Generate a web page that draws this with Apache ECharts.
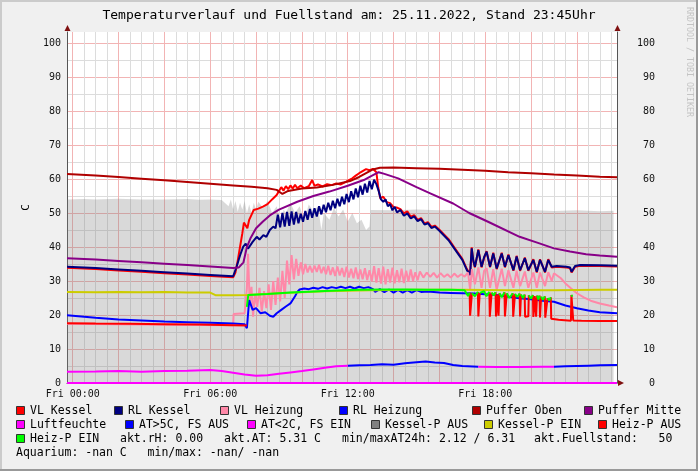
<!DOCTYPE html>
<html><head><meta charset="utf-8">
<script src="https://cdn.jsdelivr.net/npm/echarts@6/dist/echarts.min.js"></script>
<style>html,body{margin:0;padding:0;background:#f0f0f0}#c{width:698px;height:471px}</style>
</head><body><div id="c"></div>
<script>
const G = '-';
const chartTitle = 'Temperaturverlauf und Fuellstand am: 25.11.2022, Stand 23:45Uhr';
const xTickLabels = {0:'Fri 00:00', 6:'Fri 06:00', 12:'Fri 12:00', 18:'Fri 18:00'};
const yUnit = 'C';

// time in hours relative to Fri 00:00
const fuellArea = [[-0.25,54.0],[0.5,54.1],[1,54.0],[2,54.2],[3,54.0],[4,54.0],[5,54.1],[5.5,53.9],[6,54.0],[6.5,53.8],[6.8,52.0],[6.9,54],[7.0,51],[7.1,53.5],[7.2,50.4],[7.3,53],[7.4,51],[7.5,53.5],[7.6,49.9],[7.7,52.5],[7.8,50],[7.9,53],[8.0,51],[8.1,53.3],[8.3,51.5],[8.5,53.5],[8.7,50],[8.9,52],[9.1,47],[9.2,51],[9.3,50],[9.5,53.0],[9.7,50],[9.9,52],[10.1,48],[10.3,52.5],[10.5,50.5],[10.7,52],[10.85,45.0],[10.95,50],[11.2,48],[11.4,51.5],[11.6,49],[11.8,51],[12.0,47.5],[12.2,50],[12.4,47],[12.6,48],[12.8,45],[12.95,46],[13.0,50.9],[14,50.8],[15,51.0],[16,50.8],[17,50.9],[18,50.7],[19,50.8],[20,50.9],[21,50.6],[22,50.8],[23,50.5],[23.6,50.7]];

const vlKessel = [[-0.25,33.9],[1,33.5],[2,33.1],[3,32.7],[4,32.3],[5,31.9],[6,31.5],[7.0,31.1],[7.1,32.5],[7.2,36],[7.3,40],[7.4,44],[7.47,47.2],[7.55,47.4],[7.62,45.5],[7.7,48],[7.9,50.9],[8.1,51.3],[8.3,51.9],[8.5,52.6],[8.7,54.0],[8.9,55.3],[9.0,56.5],[9.1,57.6],[9.2,56.6],[9.3,57.9],[9.4,57.0],[9.5,58.1],[9.6,57.2],[9.7,58.3],[9.8,57.3],[9.95,58.1],[10.1,57.3],[10.3,57.9],[10.45,59.7],[10.55,58.0],[10.7,58.4],[10.9,57.8],[11.1,58.5],[11.3,58.2],[11.5,58.7],[11.7,58.4],[11.9,59.1],[12.05,59.7],[12.2,60.2],[12.35,61.0],[12.5,61.7],[12.65,62.3],[12.8,62.9],[12.95,62.6],[13.1,63.0],[13.25,62.0],[13.33,57.5],[13.42,54.3],[13.55,54.8],[13.7,53.2],[13.85,52.9],[14.0,51.7],[14.15,51.6],[14.3,51.1],[14.45,49.9],[14.6,50.5],[14.75,48.9],[14.9,49.4],[15.05,48.0],[15.2,48.5],[15.35,46.9],[15.5,47.3],[15.65,45.9],[15.8,46.3],[16.0,45.1],[16.2,43.7],[16.4,42.3],[16.7,39.4],[17.0,36.5],[17.2,33.5],[17.34,32.1],[17.41,39.9],[17.48,35.8],[17.55,34.0],[17.7,39.3],[17.84,34.0],[17.95,36.8],[18.06,38.8],[18.21,34.0],[18.35,38.3],[18.5,33.5],[18.72,38.3],[18.86,34.0],[19.01,37.8],[19.23,33.0],[19.37,37.4],[19.52,33.0],[19.73,36.9],[19.88,33.0],[20.1,36.4],[20.25,32.5],[20.39,36.4],[20.61,32.5],[20.75,36.4],[20.9,34.0],[21.12,34.2],[21.55,34.0],[21.7,33.8],[21.77,32.5],[21.92,34.2],[22.14,34.5],[23,34.4],[23.75,34.3]];

const rlKessel = [[-0.25,34.2],[1,33.8],[2,33.4],[3,33.0],[4,32.6],[5,32.2],[6,31.8],[7.0,31.4],[7.15,34.2],[7.3,37.5],[7.44,40.1],[7.55,41.0],[7.65,39.5],[7.73,39.3],[7.85,41.5],[8.03,43.0],[8.15,42.2],[8.32,43.5],[8.45,43.0],[8.6,45.0],[8.75,46.0],[8.85,45.5],[8.95,49.5],[9.05,45.8],[9.15,50.0],[9.25,46.0],[9.35,50.3],[9.45,46.2],[9.55,50.5],[9.65,46.6],[9.75,50.3],[9.85,47.0],[9.95,49.8],[10.05,47.4],[10.15,50.6],[10.25,48.0],[10.35,51.2],[10.45,48.6],[10.55,51.4],[10.65,49.0],[10.75,52.0],[10.85,49.6],[10.95,52.4],[11.05,50.2],[11.15,53.0],[11.25,50.8],[11.35,53.6],[11.45,51.4],[11.55,54.2],[11.65,52.0],[11.75,54.8],[11.85,52.6],[11.95,55.6],[12.05,53.2],[12.15,56.4],[12.25,54.0],[12.35,57.2],[12.45,54.6],[12.55,58.0],[12.65,55.4],[12.75,58.6],[12.85,56.0],[12.95,59.4],[13.05,57.0],[13.15,59.8],[13.25,58.5],[13.35,56.5],[13.45,54.0],[13.55,53.3],[13.65,54.0],[13.75,52.0],[13.85,52.6],[13.95,50.8],[14.05,51.8],[14.15,50.2],[14.3,50.9],[14.45,49.2],[14.6,49.9],[14.75,48.4],[14.9,49.0],[15.05,47.6],[15.2,48.2],[15.35,46.6],[15.5,47.0],[15.65,45.6],[15.8,46.0],[16.0,44.8],[16.2,43.4],[16.4,42.0],[16.7,39.1],[17.0,36.2],[17.2,33.2],[17.34,31.8],[17.41,39.6],[17.48,36.0],[17.55,34.2],[17.7,39.1],[17.84,34.2],[17.95,37.0],[18.06,38.6],[18.21,34.2],[18.35,38.1],[18.5,33.7],[18.72,38.1],[18.86,34.2],[19.01,37.6],[19.23,33.2],[19.37,37.2],[19.52,33.2],[19.73,36.7],[19.88,33.2],[20.1,36.2],[20.25,32.7],[20.39,36.2],[20.61,32.7],[20.75,36.2],[20.9,34.2],[21.12,34.4],[21.55,34.2],[21.7,34.0],[21.77,32.7],[21.92,34.4],[22.14,34.7],[23,34.6],[23.75,34.5]];

const vlHeizung = [[-0.25,17.4],[3,17.2],[7.0,17.0],[7.02,20.3],[7.5,20.5],[7.6,28],[7.65,38],[7.72,24],[7.8,28.3],[7.87,19.5],[7.95,26],[8.05,22.4],[8.15,28],[8.25,21],[8.35,27],[8.45,22],[8.55,29],[8.65,21.5],[8.75,30],[8.85,23],[8.95,31],[9.05,24],[9.15,33],[9.25,25],[9.35,36],[9.45,29],[9.55,37.6],[9.65,30.5],[9.75,36.5],[9.85,31.5],[9.95,35.5],[10.05,32],[10.15,35],[10.25,32.5],[10.35,34.5],[10.45,32.5],[10.55,34.5],[10.65,32.7],[10.75,34.8],[10.85,32.3],[10.95,34.2],[11.05,32.0],[11.15,34.5],[11.25,31.8],[11.35,34.0],[11.45,31.5],[11.55,34.3],[11.65,31.6],[11.75,33.8],[11.85,31.2],[11.95,34.2],[12.05,31.0],[12.15,33.6],[12.25,30.8],[12.35,34.0],[12.45,30.6],[12.55,33.4],[12.65,30.5],[12.75,33.8],[12.85,30.3],[12.95,33.2],[13.05,30.0],[13.15,34.4],[13.25,29.5],[13.35,33.8],[13.45,29.2],[13.55,34.2],[13.65,29.0],[13.75,33.5],[13.85,29.5],[13.95,33.9],[14.05,29.3],[14.15,33.2],[14.25,29.6],[14.35,33.6],[14.45,29.4],[14.55,33.0],[14.65,29.8],[14.75,33.4],[14.85,30.0],[14.95,32.6],[15.05,30.2],[15.15,32.8],[15.3,31.0],[15.45,32.5],[15.6,31.2],[15.75,32.4],[15.9,31.0],[16.05,32.3],[16.2,31.2],[16.35,32.0],[16.5,31.0],[16.65,32.2],[16.8,31.2],[16.95,32.0],[17.1,31.3],[17.25,32.5],[17.34,27.5],[17.42,33.5],[17.55,29.0],[17.7,34.0],[17.84,28.0],[17.95,33.0],[18.06,33.8],[18.21,28.0],[18.35,33.5],[18.5,27.5],[18.72,33.6],[18.86,28.5],[19.01,33.2],[19.23,28.0],[19.37,33.0],[19.52,28.5],[19.73,32.8],[19.88,28.0],[20.1,32.5],[20.25,28.0],[20.39,32.5],[20.61,28.5],[20.75,32.6],[20.9,30.0],[21.0,32.3],[21.3,30.8],[21.5,29.3],[21.75,27.8],[22.0,26.4],[22.3,25.2],[22.6,24.2],[23.0,23.4],[23.4,22.8],[23.75,22.3]];

const rlHeizung = [[-0.25,19.9],[1,19.2],[2,18.7],[3,18.4],[4,18.1],[5,17.9],[6,17.7],[7.0,17.5],[7.5,17.3],[7.6,16.1],[7.7,24.4],[7.85,21.5],[8.0,22.0],[8.2,20.5],[8.4,20.8],[8.6,19.8],[8.75,19.5],[8.9,20.5],[9.1,21.5],[9.3,22.5],[9.5,23.4],[9.7,25.5],[9.8,26.8],[9.9,27.5],[10.1,27.8],[10.3,27.6],[10.5,28.0],[10.7,27.7],[10.9,28.2],[11.1,27.8],[11.3,28.2],[11.5,27.9],[11.7,28.3],[11.9,27.9],[12.1,28.3],[12.3,27.8],[12.5,28.3],[12.7,27.9],[12.9,28.2],[13.1,27.6],[13.2,26.8],[13.4,27.6],[13.6,26.7],[13.8,27.5],[14.0,26.6],[14.2,27.4],[14.4,26.6],[14.6,27.3],[14.8,26.6],[15.0,27.3],[15.2,26.8],[15.5,26.9],[16,26.6],[16.5,26.5],[17,26.4],[17.5,26.3],[18,26.1],[18.5,25.9],[19,25.4],[19.5,24.9],[20,24.6],[20.5,24.2],[21,23.9],[21.5,22.8],[22,22.0],[22.5,21.3],[23,20.8],[23.75,20.5]];

const pufferOben = [[-0.25,61.5],[1,61.0],[2,60.6],[3,60.1],[4,59.6],[5,59.1],[6,58.6],[7,58.1],[7.8,57.7],[8.5,57.3],[8.9,56.8],[9.15,55.6],[9.4,56.5],[10,57.2],[10.65,57.5],[11.3,58.2],[12.1,59.4],[12.5,60.6],[12.8,61.7],[13.1,62.8],[13.4,63.3],[14,63.4],[15,63.2],[16,63.0],[17,62.7],[18,62.4],[19,62.0],[20,61.7],[21,61.3],[22,61.0],[23,60.7],[23.75,60.5]];

const pufferMitte = [[-0.25,36.7],[1,36.3],[2,35.9],[3,35.5],[4,35.1],[5,34.7],[6,34.3],[7.0,33.8],[7.25,34.0],[7.45,35.5],[7.6,40],[7.75,42.5],[8.0,45.5],[8.3,47.5],[8.6,49.3],[9.0,51.0],[9.8,53.3],[10.5,55],[11.2,56.3],[12.0,58],[12.7,59.7],[13.0,60.8],[13.35,62.0],[13.6,61.5],[14.2,60.2],[15.0,57.6],[15.6,55.8],[16.6,52.8],[17.3,50.0],[18.1,47.5],[19.5,43.0],[20.3,41.2],[21.0,39.6],[21.7,38.7],[22.4,37.9],[23.0,37.5],[23.75,37.1]];

const luftfeuchte = [[-0.25,0],[23.75,0]];

const atWarm = [[12,5.1],[12.5,5.2],[13,5.3],[13.5,5.5],[14,5.4],[14.5,5.8],[15,6.1],[15.4,6.3],[15.8,6.0],[16.2,5.9],[16.6,5.3],[17.0,5.0],[17.7,4.8],G,[21,4.8],[21.5,4.9],[22,5.0],[22.5,5.1],[23,5.2],[23.75,5.3]];
const atCold = [[-0.25,3.3],[1,3.4],[2,3.5],[3,3.3],[4,3.5],[5,3.6],[6,3.8],[6.5,3.5],[7,3.0],[7.5,2.5],[8,2.1],[8.5,2.3],[9,2.7],[9.5,3.1],[10,3.5],[10.5,4.0],[11,4.5],[11.5,4.9],[12,5.1],G,[17.7,4.8],[18.5,4.7],[19.5,4.7],[20.5,4.8],[21,4.8]];

const kesselPEin = [[-0.25,26.8],[1,26.7],[2,26.8],[3,26.7],[4,26.8],[5,26.6],[6,26.6],[6.25,25.8],[7,25.8],[7.6,25.9],[9,26.4],[11,27.0],[13,27.3],[15,27.4],[17,27.4],[19,27.3],[21,27.3],[23,27.4],[23.75,27.4]];

const heizPAus = [[-0.25,17.6],[1,17.5],[2.5,17.4],[4,17.3],[5.5,17.2],[7.0,17.0],[7.6,16.9],G,
 [17.32,26.6],[17.34,19.8],[17.4,20.2],[17.42,26.4],G,
 [17.68,26.8],[17.7,19.6],[17.74,19.8],[17.76,26.5],G,
 [18.18,26.8],[18.2,19.5],[18.26,19.9],[18.28,26.6],G,
 [18.45,26.7],[18.47,19.6],[18.53,20.0],[18.55,26.0],[18.58,19.8],[18.62,26.4],G,
 [18.84,26.7],[18.86,19.6],[18.92,19.9],[18.94,26.4],G,
 [19.2,26.4],[19.22,19.5],[19.28,19.8],[19.3,26.2],G,
 [19.5,26.3],[19.52,19.6],[19.56,26.0],G,
 [19.72,26.0],[19.74,19.5],[19.82,19.7],[19.88,19.6],[19.9,25.8],G,
 [20.08,25.9],[20.1,19.4],[20.16,25.6],[20.22,19.5],[20.26,25.7],G,
 [20.37,25.7],[20.39,19.3],[20.44,25.4],G,
 [20.6,25.5],[20.62,19.2],[20.7,19.4],[20.72,25.0],G,
 [20.86,25.2],[20.88,18.9],[21.2,18.6],[21.6,18.4],[21.74,18.3],[21.76,25.9],[21.8,25.4],[21.84,18.4],[22.2,18.3],[23,18.2],[23.75,18.2]];

const heizPEin = [[7.6,22.4],[7.66,25.9],[8.5,26.2],[9.5,26.6],[10.5,26.9],[11.5,27.2],[12.5,27.4],[13.5,27.5],[14.5,27.5],[15.5,27.4],[16.5,27.4],[17.1,27.3],[17.25,25.6],[17.32,26.6],G,
 [17.42,26.4],[17.55,25.5],[17.68,26.8],G,
 [17.76,26.5],[17.95,27.0],[18.05,25.5],[18.18,26.8],G,
 [18.28,26.6],[18.38,25.8],[18.45,26.7],G,
 [18.62,26.4],[18.72,25.2],[18.84,26.7],G,
 [18.94,26.4],[19.05,25.0],[19.2,26.4],G,
 [19.3,26.2],[19.4,25.3],[19.5,26.3],G,
 [19.56,26.0],[19.65,25.0],[19.72,26.0],G,
 [19.9,25.8],[20.0,24.8],[20.08,25.9],G,
 [20.26,25.7],[20.32,24.6],[20.37,25.7],G,
 [20.44,25.4],[20.52,24.5],[20.6,25.5],G,
 [20.72,25.0],[20.8,24.3],[20.86,25.2],G,
 [21.76,25.9],[21.8,25.4]];

const legendRow1 = ['VL Kessel','RL Kessel','VL Heizung','RL Heizung','Puffer Oben','Puffer Mitte'];
const legendRow1Colors = ['#FF0000','#000080','#FF88A8','#0000FF','#B00000','#880088'];
const legendRow2 = ['Luftfeuchte','AT>5C, FS AUS','AT<2C, FS EIN','Kessel-P AUS','Kessel-P EIN','Heiz-P AUS'];
const legendRow2Colors = ['#FF00FF','#0000FF','#FF00FF','#808080','#CCCC00','#FF0000'];
const legendRow3 = ['Heiz-P EIN'];
const legendRow3Colors = ['#00FF00'];
const infoTexts = ['akt.rH: 0.00','akt.AT: 5.31 C','min/maxAT24h: 2.12 / 6.31','akt.Fuellstand:   50'];
const aquariumText = 'Aquarium: -nan C   min/max: -nan/ -nan';
const watermark = 'RRDTOOL / TOBI OETIKER';

// ---- layout ----
const X_MIN = -0.25, X_MAX = 23.75, Y_MAX = 103.24;
const row1X = [16,114,220,339,472,584];
const row2X = [16,125,247,371,484,598];
const row3X = [16];
const infoX = [120,224,342,534];
const rowY = [411,425,439,453];
const MONO = 'DejaVu Sans Mono';
const LFONT = '11.5px "DejaVu Sans Mono"';

function lineSeries(name, data, color, w) {
  return {name, type:'line', data, xAxisIndex:1, yAxisIndex:1, showSymbol:false, symbol:'none',
    clip:false, connectNulls:false, animation:false, silent:true,
    lineStyle:{color, width: w || 2}, itemStyle:{color}};
}

const series = [
  {name:'Fuellstand', type:'line', data:fuellArea, xAxisIndex:1, yAxisIndex:1, showSymbol:false, symbol:'none',
   animation:false, silent:true, lineStyle:{width:0}, areaStyle:{color:'rgba(128,128,128,0.3)', opacity:1}},
  lineSeries('VL Kessel', vlKessel, '#FF0000'),
  lineSeries('RL Kessel', rlKessel, '#000080'),
  lineSeries('VL Heizung', vlHeizung, '#FF88A8'),
  lineSeries('RL Heizung', rlHeizung, '#0000FF'),
  lineSeries('Puffer Oben', pufferOben, '#B00000'),
  lineSeries('Puffer Mitte', pufferMitte, '#880088'),
  lineSeries('Luftfeuchte', luftfeuchte, '#FF00FF'),
  lineSeries('AT>5C, FS AUS', atWarm, '#0000FF'),
  lineSeries('AT<2C, FS EIN', atCold, '#FF00FF'),
  lineSeries('Kessel-P EIN', kesselPEin, '#CCCC00'),
  lineSeries('Heiz-P AUS', heizPAus, '#FF0000'),
  lineSeries('Heiz-P EIN', heizPEin, '#00FF00'),
];

const graphics = [];
// frame shading
graphics.push({type:'rect', shape:{x:0,y:0,width:698,height:2}, style:{fill:'#CBCBCB'}, silent:true});
graphics.push({type:'rect', shape:{x:0,y:0,width:2,height:471}, style:{fill:'#CBCBCB'}, silent:true});
graphics.push({type:'rect', shape:{x:0,y:469,width:698,height:2}, style:{fill:'#999999'}, silent:true});
graphics.push({type:'rect', shape:{x:696,y:0,width:2,height:471}, style:{fill:'#999999'}, silent:true});
// arrows
const ARROW = '#7F1010';
graphics.push({type:'polygon', shape:{points:[[64.5,31],[70.5,31],[67.5,25]]}, style:{fill:ARROW}, silent:true, z:10});
graphics.push({type:'polygon', shape:{points:[[614.5,31],[620.5,31],[617.5,25]]}, style:{fill:ARROW}, silent:true, z:10});
graphics.push({type:'polygon', shape:{points:[[618,380],[618,386],[624,383]]}, style:{fill:ARROW}, silent:true, z:10});
// watermark
graphics.push({type:'text', x:689, y:7, rotation:-Math.PI/2, silent:true,
  style:{text:watermark, font:'8.3px "DejaVu Sans Mono"', fill:'#C4C4C4', textAlign:'left', textVerticalAlign:'middle', verticalAlign:'middle'}});

function legendItem(x, y, name, color) {
  graphics.push({type:'rect', shape:{x:x+0.5, y:y-4.5, width:8, height:8}, style:{fill:color, stroke:'#333', lineWidth:1}, silent:true});
  graphics.push({type:'text', x:x+14, y:y, silent:true,
    style:{text:name, font:LFONT, fill:'#000', textAlign:'left', textVerticalAlign:'middle', verticalAlign:'middle'}});
}
function legendText(x, y, text) {
  graphics.push({type:'text', x:x, y:y, silent:true,
    style:{text, font:LFONT, fill:'#000', textAlign:'left', textVerticalAlign:'middle', verticalAlign:'middle'}});
}
legendRow1.forEach((n,i)=>legendItem(row1X[i], rowY[0], n, legendRow1Colors[i]));
legendRow2.forEach((n,i)=>legendItem(row2X[i], rowY[1], n, legendRow2Colors[i]));
legendRow3.forEach((n,i)=>legendItem(row3X[i], rowY[2], n, legendRow3Colors[i]));
infoTexts.forEach((t,i)=>legendText(infoX[i], rowY[2], t));
legendText(16, rowY[3], aquariumText);

const GREY = '#DCDCDC', RED = '#F2B4B4', AXIS = '#555';
const labelStyle = {fontFamily:MONO, fontSize:10, color:'#111'};

const option = {
  backgroundColor:'#F0F0F0',
  animation:false,
  title:{text:chartTitle, left:'center', top:9, padding:0,
    textStyle:{fontFamily:MONO, fontSize:13, fontWeight:'normal', color:'#000'}},
  grid:{left:67, right:81, top:32, bottom:88, show:true, backgroundColor:'#FFFFFF', borderWidth:0},
  xAxis:[
    {type:'value', min:X_MIN, max:X_MAX, splitNumber:48, position:'bottom',
     axisLine:{show:false}, axisTick:{show:false}, axisLabel:{show:false},
     splitLine:{show:true, showMinLine:false, showMaxLine:false, lineStyle:{color:GREY, width:1}}},
    {type:'value', min:X_MIN, max:X_MAX, splitNumber:12, position:'bottom',
     axisLine:{show:true, onZero:false, lineStyle:{color:AXIS, width:1}}, axisTick:{show:false},
     axisLabel:Object.assign({margin:6, showMinLabel:false, showMaxLabel:false,
       formatter:v => (xTickLabels[v] !== undefined ? xTickLabels[v] : '')}, labelStyle),
     splitLine:{show:true, showMinLine:false, showMaxLine:false, lineStyle:{color:RED, width:1}}}
  ],
  yAxis:[
    {type:'value', min:0, max:Y_MAX, interval:5, position:'left',
     axisLine:{show:false}, axisTick:{show:false}, axisLabel:{show:false},
     splitLine:{show:true, showMinLine:false, showMaxLine:false, lineStyle:{color:GREY, width:1}}},
    {type:'value', min:0, max:Y_MAX, interval:10, position:'left',
     name:yUnit, nameLocation:'middle', nameGap:22, nameRotate:90,
     nameTextStyle:{fontFamily:MONO, fontSize:11, color:'#000'},
     axisLine:{show:true, onZero:false, lineStyle:{color:AXIS, width:1}}, axisTick:{show:false},
     axisLabel:Object.assign({margin:6, formatter:v => (v % 10 === 0 && v <= 100 ? String(v) : '')}, labelStyle),
     splitLine:{show:true, showMinLine:false, showMaxLine:false, lineStyle:{color:RED, width:1}}},
    {type:'value', min:0, max:Y_MAX, interval:10, position:'right',
     axisLine:{show:true, onZero:false, lineStyle:{color:AXIS, width:1}}, axisTick:{show:false},
     axisLabel:Object.assign({margin:38, align:'right', formatter:v => (v % 10 === 0 && v <= 100 ? String(v) : '')}, labelStyle),
     splitLine:{show:false}}
  ],
  series,
  graphic:{elements:graphics}
};

const chart = echarts.init(document.getElementById('c'), null, {renderer:'canvas'});
chart.setOption(option);
</script>
</body></html>
